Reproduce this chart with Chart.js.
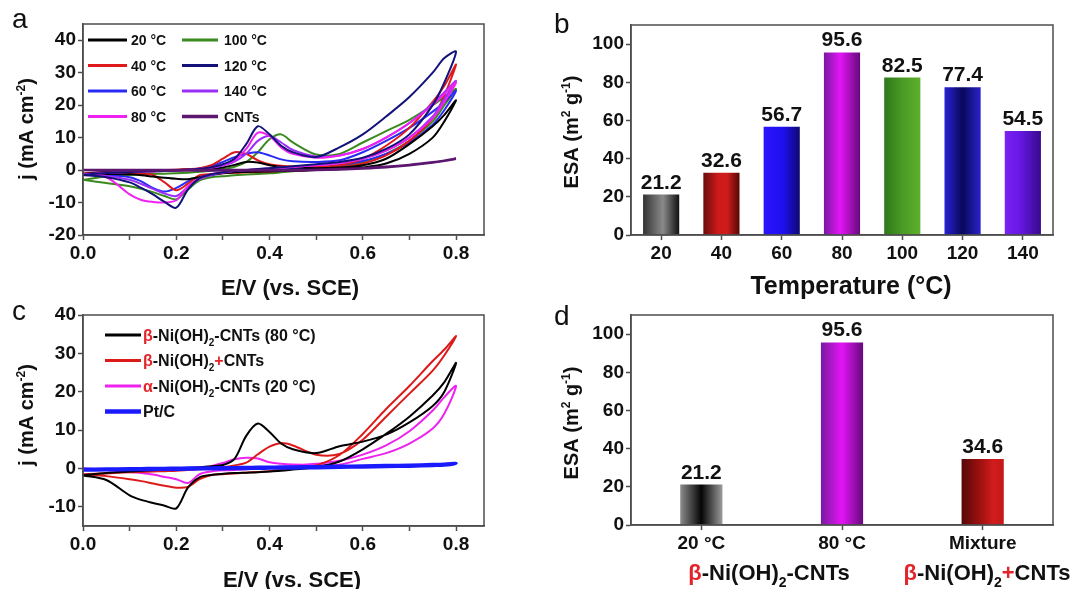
<!DOCTYPE html>
<html>
<head>
<meta charset="utf-8">
<script src="https://cdn.jsdelivr.net/npm/chart.js@4.4.0/dist/chart.umd.min.js"></script>
<style>
  html, body { margin: 0; padding: 0; background: #fff; }
  #wrap { position: relative; width: 1073px; height: 589px; overflow: hidden; background: #fff; }
  #wrap canvas { position: absolute; left: 0; top: 0; }
</style>
</head>
<body>
<div id="wrap">
  <canvas id="cvA" width="1073" height="589"></canvas>
  <canvas id="cvB" width="1073" height="589"></canvas>
  <canvas id="cvC" width="1073" height="589"></canvas>
  <canvas id="cvD" width="1073" height="589"></canvas>
</div>
<script>
// potential grid shared by every CV branch (V vs. SCE)
const potential = [0, 0.05, 0.1, 0.125, 0.15, 0.175, 0.2, 0.225, 0.25, 0.275, 0.3, 0.325, 0.35, 0.375, 0.4, 0.425, 0.45, 0.5, 0.55, 0.6, 0.65, 0.7, 0.75, 0.775, 0.8];

// panel a: current density (mA cm-2), forward (anodic) and return (cathodic) sweeps
const a20Fwd = [-1.2, -0.6, -0.3, -0.2, -0.1, 0, 0, 0.1, 0.2, 0.4, 0.8, 1.6, 2.5, 2.3, 1.5, 1.0, 0.8, 0.6, 0.8, 1.5, 3.5, 8.0, 13.5, 17.0, 21.5];
const a20Rev = [-1.2, -1.2, -1.3, -1.6, -2.0, -2.4, -2.7, -2.8, -2.2, -1.4, -0.9, -0.7, -0.6, -0.5, -0.4, -0.3, -0.2, 0, 0.3, 0.8, 2.0, 5.0, 10.0, 15.0, 21.5];
const a40Fwd = [-1.0, -0.6, -0.3, -0.2, -0.1, 0, 0.1, 0.3, 0.6, 1.5, 3.5, 5.5, 5.0, 3.0, 1.8, 1.3, 1.1, 1.0, 1.5, 3.5, 7.5, 13.0, 21.0, 26.0, 32.5];
const a40Rev = [-1.0, -1.0, -1.0, -1.2, -1.5, -3.8, -6.2, -4.2, -1.6, -1.2, -1.0, -0.8, -0.7, -0.6, -0.5, -0.3, -0.2, 0.2, 0.8, 2.0, 4.5, 9.0, 16.0, 23.0, 32.5];
const a60Fwd = [-1.3, -0.8, -0.5, -0.4, -0.3, -0.2, 0, 0.2, 0.5, 1.2, 2.5, 4.0, 5.0, 5.5, 4.5, 3.3, 2.7, 2.5, 3.0, 5.5, 9.0, 13.0, 18.0, 21.0, 24.5];
const a60Rev = [-1.3, -1.5, -2.2, -3.5, -5.5, -6.6, -5.5, -3.5, -2.2, -1.6, -1.0, -0.6, -0.4, -0.2, 0, 0.2, 0.4, 0.8, 1.5, 2.8, 5.0, 8.5, 14.0, 18.5, 24.5];
const a80Fwd = [-1.5, -0.9, -0.6, -0.5, -0.4, -0.3, -0.2, 0, 0.3, 0.8, 1.6, 3.0, 6.5, 11.5, 10.5, 7.0, 5.0, 3.8, 4.5, 6.5, 10.0, 14.5, 20.0, 23.5, 27.0];
const a80Rev = [-1.5, -2.2, -7.5, -9.2, -9.8, -10.0, -9.3, -5.0, -2.5, -1.3, -0.7, -0.3, 0, 0.2, 0.5, 0.8, 1.0, 1.5, 2.2, 3.5, 6.0, 10.0, 16.0, 21.0, 27.0];
const a100Fwd = [-3.0, -2.0, -1.5, -1.3, -1.2, -1.1, -1.0, -0.8, -0.5, -0.2, 0.3, 1.0, 2.5, 5.5, 9.5, 11.0, 8.5, 4.8, 5.0, 8.5, 12.0, 15.5, 20.0, 22.5, 25.0];
const a100Rev = [-3.0, -4.0, -5.0, -5.8, -6.8, -8.0, -9.0, -6.0, -3.2, -2.2, -1.9, -1.6, -1.4, -1.2, -1.0, -0.7, -0.4, 0.2, 1.0, 2.5, 5.0, 9.0, 15.0, 20.0, 25.0];
const a120Fwd = [-1.5, -0.9, -0.6, -0.5, -0.4, -0.3, -0.1, 0.1, 0.4, 0.9, 1.8, 3.5, 8.0, 13.5, 11.0, 7.5, 5.5, 4.0, 7.0, 11.0, 16.5, 22.5, 30.0, 34.5, 36.5];
const a120Rev = [-1.5, -2.2, -3.8, -5.5, -7.5, -9.8, -11.6, -6.0, -2.5, -1.3, -0.7, -0.3, 0, 0.3, 0.6, 0.9, 1.2, 1.8, 2.5, 3.8, 6.5, 11.0, 20.0, 27.0, 36.5];
const a140Fwd = [-1.3, -0.8, -0.5, -0.4, -0.3, -0.2, -0.1, 0.1, 0.3, 0.7, 1.4, 2.6, 5.0, 9.0, 10.5, 8.5, 6.2, 4.2, 4.5, 6.5, 10.0, 14.5, 20.5, 24.0, 27.5];
const a140Rev = [-1.3, -1.8, -3.0, -4.3, -5.8, -7.2, -8.0, -5.2, -2.8, -1.5, -0.8, -0.3, 0, 0.2, 0.5, 0.8, 1.0, 1.5, 2.2, 3.5, 6.0, 10.0, 16.5, 22.0, 27.5];
const aCntFwd = [0, 0, 0, 0, 0, 0, 0, 0, 0, 0, 0, 0, 0, 0, 0, 0, 0, 0.1, 0.3, 0.6, 1.0, 1.6, 2.4, 2.9, 3.5];
const aCntRev = [0, -0.1, -0.1, -0.1, -0.1, -0.1, -0.1, -0.1, -0.1, -0.1, -0.1, -0.1, -0.1, -0.1, -0.1, -0.1, -0.1, 0, 0.2, 0.5, 0.9, 1.5, 2.3, 2.9, 3.5];

// panel c: comparison of catalysts
const cBetaFwd = [-1.8, -1.2, -0.8, -0.6, -0.4, -0.3, -0.1, 0.1, 0.3, 0.6, 0.9, 2.5, 8.5, 11.7, 9.5, 6.5, 5.0, 4.0, 5.8, 7.0, 8.8, 12.0, 16.3, 20.0, 27.5];
const cBetaRev = [-1.8, -3.0, -7.0, -8.2, -9.0, -9.7, -10.4, -5.0, -2.3, -1.7, -1.4, -1.2, -1.1, -1.0, -0.8, -0.6, -0.3, 0.3, 1.8, 5.0, 9.0, 13.5, 19.0, 22.5, 27.5];
const cMixFwd = [-1.5, -1.3, -1.0, -0.9, -0.8, -0.7, -0.6, -0.4, -0.2, 0, 0.3, 0.8, 1.5, 3.7, 5.7, 6.6, 6.0, 3.6, 3.8, 7.5, 13.5, 19.5, 25.5, 29.5, 34.5];
const cMixRev = [-1.5, -2.0, -2.8, -3.3, -3.9, -4.5, -5.0, -4.8, -2.8, -1.7, -1.5, -1.3, -1.1, -0.9, -0.7, -0.4, -0.1, 0.8, 3.5, 9.0, 15.5, 21.5, 28.0, 31.0, 34.5];
const cAlphaFwd = [0, -0.3, -0.5, -0.6, -0.6, -0.6, -0.5, -0.3, 0, 0.6, 1.4, 2.4, 2.8, 2.6, 1.6, 1.2, 1.0, 0.9, 1.0, 2.5, 4.0, 6.5, 10.4, 14.3, 21.5];
const cAlphaRev = [0, -0.4, -0.9, -1.2, -1.6, -2.2, -2.8, -3.8, -1.5, -0.8, -0.5, -0.4, -0.2, 0, 0.2, 0.4, 0.6, 1.2, 2.0, 3.6, 6.0, 9.7, 15.1, 18.6, 21.5];
const cPtFwd = [-0.2, -0.15, -0.1, -0.05, 0, 0, 0.05, 0.1, 0.1, 0.15, 0.2, 0.2, 0.25, 0.3, 0.3, 0.35, 0.4, 0.45, 0.55, 0.65, 0.75, 0.85, 1.0, 1.1, 1.3];
const cPtRev = [-0.4, -0.35, -0.3, -0.3, -0.25, -0.2, -0.2, -0.15, -0.1, -0.1, -0.05, 0, 0, 0.05, 0.1, 0.1, 0.15, 0.2, 0.3, 0.4, 0.5, 0.6, 0.8, 0.9, 1.3];

// panels b and d: electrochemical surface area (m2 g-1)
const tempLabels = ['20', '40', '60', '80', '100', '120', '140'];
const esaByTemp = [21.2, 32.6, 56.7, 95.6, 82.5, 77.4, 54.5];
const sampleLabels = ['20 °C', '80 °C', 'Mixture'];
const esaBySample = [21.2, 95.6, 34.6];

const FONT = '"Liberation Sans", Arial, Helvetica, sans-serif';
const FRAME = '#4d4d4d';
const RED = '#e3242b';
Chart.defaults.font.family = FONT;
Chart.defaults.color = '#111';
Chart.defaults.animation = false;

// shaded bar fills, left -> right
const tempShades = [
  [[0, '#333'], [0.55, '#8a8a8a'], [1, '#111']],
  [[0, '#6a0c0c'], [0.4, '#cc1a1a'], [0.65, '#d21c1c'], [1, '#560808']],
  [[0, '#2a14ff'], [0.55, '#1e10ee'], [1, '#0e0870']],
  [[0, '#781aa0'], [0.45, '#e414f6'], [1, '#640a7c']],
  [[0, '#2e781a'], [0.5, '#4a9a24'], [1, '#5eb02c']],
  [[0, '#2a22d4'], [0.5, '#08085c'], [1, '#2a22cc']],
  [[0, '#7a22f2'], [0.4, '#6818e6'], [1, '#380a8c']]
];
const sampleShades = [
  [[0, '#8c8c8c'], [0.5, '#050505'], [1, '#9c9c9c']],
  [[0, '#781aa0'], [0.5, '#e414f6'], [1, '#640a7c']],
  [[0, '#560808'], [0.5, '#a81212'], [0.75, '#d21c1c'], [1, '#c41818']]
];

const betaCnt = [{ t: 'β', c: RED }, { t: '-Ni(OH)' }, { t: '2', sub: true }, { t: '-CNTs' }];
const betaMix = [{ t: 'β', c: RED }, { t: '-Ni(OH)' }, { t: '2', sub: true }, { t: '+', c: RED }, { t: 'CNTs' }];
const jTitle = [{ t: 'j (mA cm' }, { t: '-2', sup: true }, { t: ')' }];
const esaTitle = [{ t: 'ESA (m' }, { t: '2', sup: true }, { t: ' g' }, { t: '-1', sup: true }, { t: ')' }];

function loop(fwd, rev) {
  const pts = potential.map((e, i) => ({ x: e, y: fwd[i] }));
  for (let i = potential.length - 2; i >= 0; i--) pts.push({ x: potential[i], y: rev[i] });
  return pts;
}

function cv(label, fwd, rev, color, width, order) {
  return {
    label, data: loop(fwd, rev), borderColor: color, backgroundColor: color,
    borderWidth: width, pointRadius: 0, showLine: true, tension: 0.3, order
  };
}

function partFont(p, size) {
  return `bold ${p.sub || p.sup ? Math.round(size * 0.62) : size}px ${FONT}`;
}

function drawRich(ctx, parts, x, y, size, align) {
  let w = 0;
  parts.forEach(p => { ctx.font = partFont(p, size); w += ctx.measureText(p.t).width; });
  let cx = align === 'center' ? x - w / 2 : x;
  ctx.textAlign = 'left';
  ctx.textBaseline = 'alphabetic';
  parts.forEach(p => {
    ctx.font = partFont(p, size);
    ctx.fillStyle = p.c || '#111';
    const dy = p.sub ? size * 0.3 : p.sup ? -size * 0.4 : 0;
    ctx.fillText(p.t, cx, y + dy);
    cx += ctx.measureText(p.t).width;
  });
}

function barFill(shades, pct) {
  return (c) => {
    const st = shades[c.dataIndex];
    const xs = c.chart.scales.x;
    if (c.dataIndex === undefined) return '#888';
    if (!xs || !xs.ticks || !xs.ticks.length) return st[1][1];
    const cx = xs.getPixelForValue(c.dataIndex);
    const half = xs.width / xs.ticks.length * pct / 2;
    const g = c.chart.ctx.createLinearGradient(cx - half, 0, cx + half, 0);
    st.forEach(([o, col]) => g.addColorStop(o, col));
    return g;
  };
}

// frame, panel letter, axis titles, legend and value labels
function deco(spec) {
  return {
    id: 'deco',
    afterDraw(chart) {
      const ctx = chart.ctx, a = chart.chartArea;
      ctx.save();
      ctx.strokeStyle = FRAME;
      ctx.lineWidth = 1.5;
      ctx.strokeRect(a.left, a.top, a.right - a.left, a.bottom - a.top);

      ctx.fillStyle = '#111';
      ctx.font = `28px ${FONT}`;
      ctx.textAlign = 'left';
      ctx.textBaseline = 'alphabetic';
      ctx.fillText(spec.letter[0], spec.letter[1], spec.letter[2]);

      spec.texts.forEach(tx => drawRich(ctx, tx.parts, tx.x, tx.y, tx.size, 'center'));

      if (spec.yTitle) {
        const yt = spec.yTitle;
        ctx.save();
        ctx.translate(yt.x, yt.y);
        ctx.rotate(-Math.PI / 2);
        drawRich(ctx, yt.parts, 0, yt.size * 0.36, yt.size, 'center');
        ctx.restore();
      }

      if (spec.legend) {
        const lg = spec.legend;
        chart.data.datasets.forEach((ds, i) => {
          const col = lg.cols[Math.floor(i / lg.rows.length)];
          const y = lg.rows[i % lg.rows.length];
          ctx.strokeStyle = ds.borderColor;
          ctx.lineWidth = Math.max(ds.borderWidth + 0.8, 2.6);
          ctx.beginPath();
          ctx.moveTo(col.line[0], y);
          ctx.lineTo(col.line[1], y);
          ctx.stroke();
          const parts = lg.parts ? lg.parts[i] : [{ t: ds.label }];
          drawRich(ctx, parts, col.text, y + lg.size * 0.36, lg.size, 'left');
        });
      }

      if (spec.values) {
        const ds = chart.data.datasets[0];
        ctx.font = `bold 21px ${FONT}`;
        ctx.fillStyle = '#111';
        ctx.textAlign = 'center';
        ctx.textBaseline = 'alphabetic';
        chart.getDatasetMeta(0).data.forEach((el, i) => {
          ctx.fillText(ds.data[i].toFixed(1), el.x, el.y - 6);
        });
      }
      ctx.restore();
    }
  };
}

const tickFont = { size: 19, weight: 'bold' };
const axisGrid = { drawOnChartArea: false, drawTicks: true, tickLength: 5, tickColor: FRAME, tickWidth: 1.5 };
const axisBorder = { display: true, color: FRAME, width: 1.5 };

function cvScales(yMin, yMax) {
  return {
    x: {
      type: 'linear', min: 0, max: 0.86,
      border: axisBorder, grid: axisGrid,
      ticks: {
        stepSize: 0.1, includeBounds: false, autoSkip: false, maxRotation: 0, padding: 2,
        font: tickFont, color: '#111',
        callback: v => (Math.round(v * 10) % 2 === 0 ? v.toFixed(1) : '')
      },
      afterFit: s => { s.height = 40; }
    },
    y: {
      type: 'linear', min: yMin, max: yMax,
      border: axisBorder, grid: axisGrid,
      ticks: { stepSize: 10, includeBounds: false, padding: 2, font: tickFont, color: '#111' },
      afterFit: s => { s.width = 83; }
    }
  };
}

function barScales(gridOffset) {
  return {
    x: {
      type: 'category', offset: true,
      border: axisBorder, grid: Object.assign({}, axisGrid, { offset: gridOffset }),
      ticks: { padding: 2, font: tickFont, color: '#111', autoSkip: false, maxRotation: 0 },
      afterFit: s => { s.height = 40; }
    },
    y: {
      type: 'linear', min: 0, max: 110,
      border: axisBorder, grid: axisGrid,
      ticks: { stepSize: 20, includeBounds: false, padding: 2, font: tickFont, color: '#111' },
      afterFit: s => { s.width = 83; }
    }
  };
}

const baseOpts = {
  responsive: false,
  devicePixelRatio: 1,
  animation: false,
  events: [],
  plugins: { legend: { display: false }, tooltip: { enabled: false } }
};

// a: CV curves at different synthesis temperatures
new Chart(document.getElementById('cvA'), {
  type: 'scatter',
  data: {
    datasets: [
      cv('20 °C', a20Fwd, a20Rev, '#000000', 2, 3),
      cv('40 °C', a40Fwd, a40Rev, '#e0191c', 2, 3),
      cv('60 °C', a60Fwd, a60Rev, '#2a2af5', 2, 3),
      cv('80 °C', a80Fwd, a80Rev, '#f020f0', 2, 2),
      cv('100 °C', a100Fwd, a100Rev, '#3a8a1e', 2, 3),
      cv('120 °C', a120Fwd, a120Rev, '#12127a', 2, 1),
      cv('140 °C', a140Fwd, a140Rev, '#9a30f8', 2, 2),
      cv('CNTs', aCntFwd, aCntRev, '#5c1670', 2.5, 0)
    ]
  },
  options: Object.assign({}, baseOpts, {
    layout: { padding: { left: 0, top: 24, right: 589, bottom: 314 } },
    scales: cvScales(-20, 45)
  }),
  plugins: [deco({
    letter: ['a', 12, 28],
    texts: [{ parts: [{ t: 'E/V (vs. SCE)' }], x: 290, y: 295, size: 22 }],
    yTitle: { parts: jTitle, x: 26, y: 129, size: 20 },
    legend: {
      size: 14,
      rows: [40, 65.5, 91, 116.5],
      cols: [{ line: [88, 127], text: 131 }, { line: [182, 218], text: 224 }]
    }
  })]
});

// b: ESA versus synthesis temperature
new Chart(document.getElementById('cvB'), {
  type: 'bar',
  data: {
    labels: tempLabels,
    datasets: [{
      data: esaByTemp, backgroundColor: barFill(tempShades, 0.6),
      borderWidth: 0, barPercentage: 0.6, categoryPercentage: 1
    }]
  },
  options: Object.assign({}, baseOpts, {
    layout: { padding: { left: 548, top: 25, right: 20, bottom: 314 } },
    scales: barScales(false)
  }),
  plugins: [deco({
    letter: ['b', 554, 33],
    texts: [{ parts: [{ t: 'Temperature (°C)' }], x: 851, y: 294, size: 25 }],
    yTitle: { parts: esaTitle, x: 571, y: 132, size: 20 },
    values: true
  })]
});

// c: CV comparison of catalysts
new Chart(document.getElementById('cvC'), {
  type: 'scatter',
  data: {
    datasets: [
      cv('β-Ni(OH)2-CNTs (80 °C)', cBetaFwd, cBetaRev, '#000000', 2, 1),
      cv('β-Ni(OH)2+CNTs', cMixFwd, cMixRev, '#dd1a1a', 2, 2),
      cv('α-Ni(OH)2-CNTs (20 °C)', cAlphaFwd, cAlphaRev, '#ee22ee', 2, 3),
      cv('Pt/C', cPtFwd, cPtRev, '#1a1aff', 3.5, 0)
    ]
  },
  options: Object.assign({}, baseOpts, {
    layout: { padding: { left: 0, top: 315, right: 589, bottom: 23 } },
    scales: cvScales(-15, 40)
  }),
  plugins: [deco({
    letter: ['c', 12, 320],
    texts: [{ parts: [{ t: 'E/V (vs. SCE)' }], x: 292, y: 587, size: 22 }],
    yTitle: { parts: jTitle, x: 26, y: 415, size: 20 },
    legend: {
      size: 16,
      rows: [335, 360.5, 386, 411.5],
      cols: [{ line: [105, 141], text: 143 }],
      parts: [
        betaCnt.concat([{ t: ' (80 °C)' }]),
        betaMix,
        [{ t: 'α', c: RED }, { t: '-Ni(OH)' }, { t: '2', sub: true }, { t: '-CNTs (20 °C)' }],
        [{ t: 'Pt/C' }]
      ]
    }
  })]
});

// d: ESA of the composites versus the physical mixture
new Chart(document.getElementById('cvD'), {
  type: 'bar',
  data: {
    labels: sampleLabels,
    datasets: [{
      data: esaBySample, backgroundColor: barFill(sampleShades, 0.3),
      borderWidth: 0, barPercentage: 0.3, categoryPercentage: 1
    }]
  },
  options: Object.assign({}, baseOpts, {
    layout: { padding: { left: 548, top: 315, right: 20, bottom: 24 } },
    scales: barScales(false)
  }),
  plugins: [deco({
    letter: ['d', 554, 325],
    texts: [
      { parts: betaCnt, x: 769, y: 580, size: 22 },
      { parts: betaMix, x: 987, y: 580, size: 22 }
    ],
    yTitle: { parts: esaTitle, x: 571, y: 423, size: 20 },
    values: true
  })]
});
</script>
</body>
</html>
